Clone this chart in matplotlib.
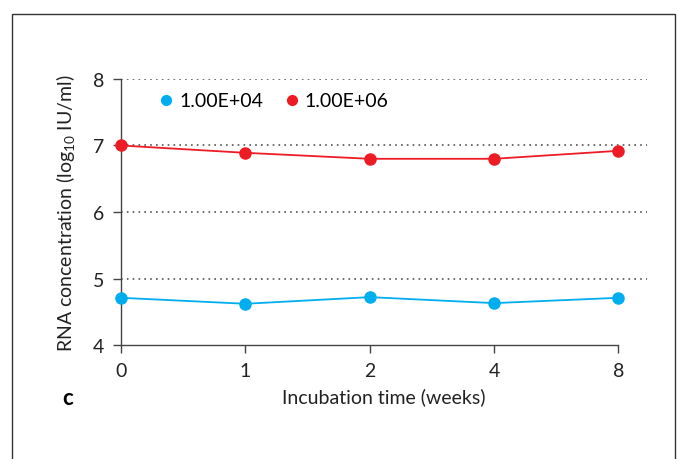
import matplotlib.pyplot as plt
from matplotlib.patches import Rectangle
from matplotlib.lines import Line2D

plt.rcParams['font.family'] = ['Lato', 'DejaVu Sans']
plt.rcParams['mathtext.fontset'] = 'custom'
plt.rcParams['mathtext.rm'] = 'Lato'

# 数据
weeks = ['0', '1', '2', '4', '8']
low_dose = [4.71, 4.62, 4.72, 4.63, 4.71]     # 1.00E+04
high_dose = [7.00, 6.89, 6.80, 6.80, 6.92]    # 1.00E+06
series_names = ['1.00E+04', '1.00E+06']
blue = '#00aeef'
red = '#ed1c24'

fig = plt.figure(figsize=(6.78, 4.6), dpi=100)
ax = fig.add_axes([0.1785, 0.2478, 0.7758, 0.5783])

x = list(range(len(weeks)))
ax.plot(x, low_dose, color=blue, lw=1.3, marker='o', ms=8, clip_on=False, zorder=3)
ax.plot(x, high_dose, color=red, lw=1.3, marker='o', ms=8, clip_on=False, zorder=3)

ax.set_xlim(0, 4.23)
ax.set_ylim(4, 8)
ax.set_xticks(x)
ax.set_xticklabels(weeks)
ax.set_yticks([4, 5, 6, 7, 8])

# 网格线：虚点
for yv in [5, 6, 7, 8]:
    ax.axhline(yv, color='#555555', lw=1.2, ls=(0, (1, 2.5)), zorder=1)

for s in ['top', 'right']:
    ax.spines[s].set_visible(False)
ax.spines['bottom'].set_bounds(0, 4)
for s in ['left', 'bottom']:
    ax.spines[s].set_color('#444444')
    ax.spines[s].set_linewidth(1.0)
ax.tick_params(axis='both', colors='#444444', labelcolor='#222222', labelsize=14,
               length=6, width=1.0, pad=6)

ax.set_xlabel('Incubation time (weeks)', fontsize=14, color='#222222', labelpad=6)
ax.set_ylabel('RNA concentration (log$_{\\mathrm{10}}$ IU/ml)', fontsize=14, color='#222222', labelpad=11)

# 图例：只有圆点
handles = [Line2D([], [], ls='none', marker='o', ms=7, color=c) for c in (blue, red)]
ax.legend(handles, series_names, loc='center left', bbox_to_anchor=(0.042, 0.918), ncol=2,
          frameon=False, fontsize=14, handlelength=0.6, handletextpad=0.35, columnspacing=1.2)

fig.text(62 / 678, 1 - 399 / 460, 'c', fontsize=16, fontweight='bold', va='center', ha='left')

# 外框
fig.patches.append(Rectangle((12 / 678, -0.1), 663 / 678, 1 - 15 / 460 + 0.1,
                             transform=fig.transFigure, fill=False, ec='#333333', lw=1.0))

fig.savefig('out.png', dpi=100)
